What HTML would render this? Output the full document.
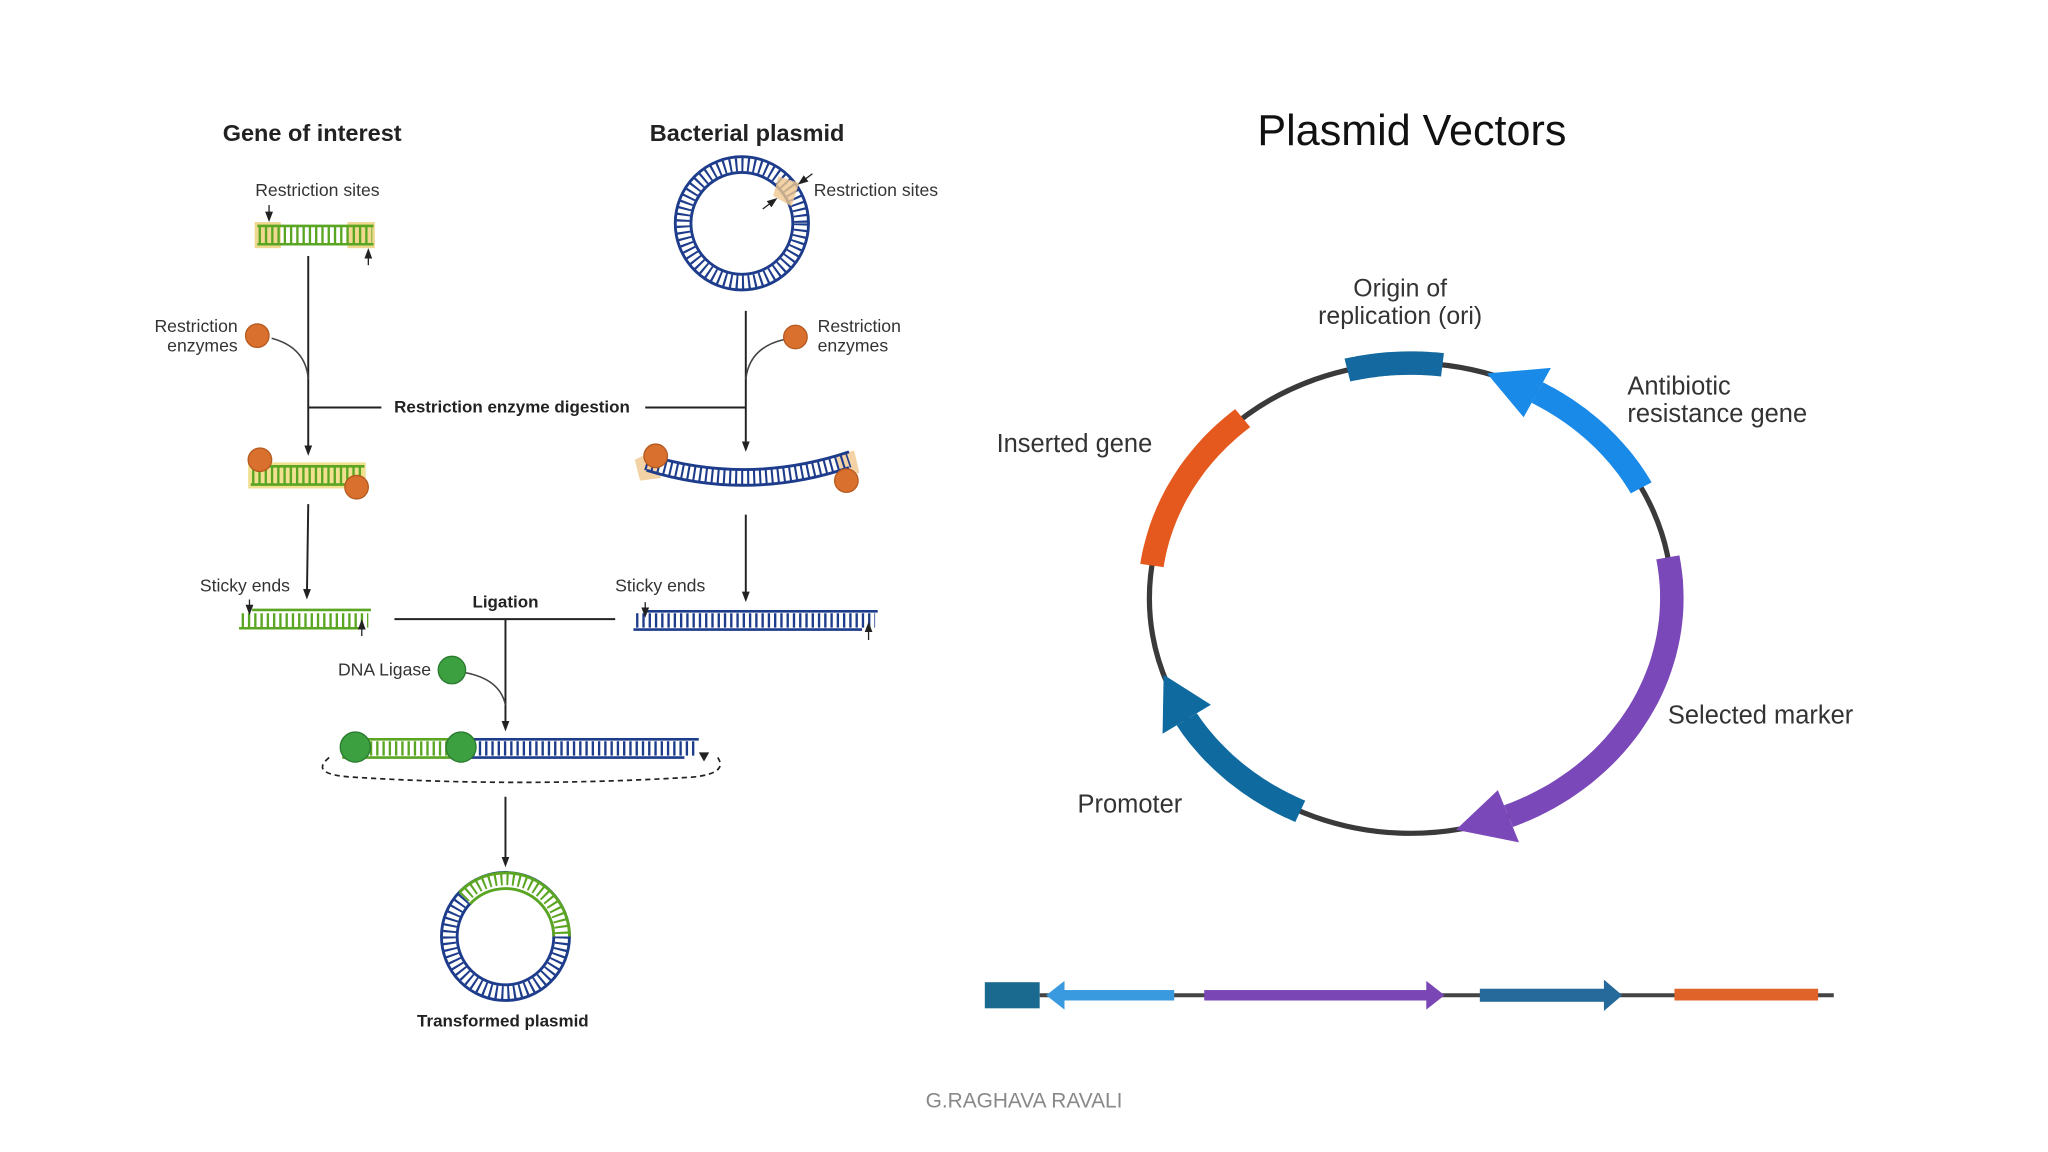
<!DOCTYPE html>
<html><head><meta charset="utf-8"><style>
html,body{margin:0;padding:0;background:#fff;width:2048px;height:1152px;overflow:hidden}
svg{display:block}
text{font-family:"Liberation Sans",sans-serif}
</style></head><body>
<svg id="s" width="2048" height="1152" viewBox="0 0 1568 882" xmlns="http://www.w3.org/2000/svg">
<defs>
<marker id="ah" markerWidth="8" markerHeight="8" refX="4" refY="4" orient="auto" markerUnits="userSpaceOnUse"><path d="M0,1 L8,4 L0,7 Z" fill="#222"/></marker>
</defs>
<rect width="1568" height="882" fill="#fff"/>
<text x="239" y="108" font-size="18" font-weight="bold" text-anchor="middle" fill="#222">Gene of interest</text>
<text x="572" y="108" font-size="18" font-weight="bold" text-anchor="middle" fill="#222">Bacterial plasmid</text>
<text x="1081" y="111" font-size="33" text-anchor="middle" fill="#111">Plasmid Vectors</text>

<text x="243" y="150" font-size="13.5" text-anchor="middle" fill="#333">Restriction sites</text>
<rect x="195" y="170" width="20" height="20" fill="#f0d890"/>
<rect x="266" y="170" width="21" height="20" fill="#f0d890"/>
<g stroke="#5aa623">
<line x1="197" y1="173" x2="286" y2="173" stroke-width="2"/>
<line x1="197" y1="187" x2="286" y2="187" stroke-width="2"/>
<line x1="198" y1="180" x2="285" y2="180" stroke-width="13" stroke-dasharray="1.8 3"/>
</g>
<line x1="206" y1="157" x2="206" y2="166" stroke="#222" marker-end="url(#ah)" stroke-width="1"/>
<line x1="282" y1="203" x2="282" y2="194" stroke="#222" marker-end="url(#ah)" stroke-width="1"/>

<line x1="236" y1="196" x2="236" y2="345" stroke="#222" stroke-width="1.5" marker-end="url(#ah)"/>
<path d="M208,259 Q234,266 236,290" fill="none" stroke="#444" stroke-width="1.2"/>
<circle cx="197" cy="257" r="9" fill="#d9702e" stroke="#b55a20"/>
<text x="182" y="254" font-size="13.5" text-anchor="end" fill="#333">Restriction</text>
<text x="182" y="269" font-size="13.5" text-anchor="end" fill="#333">enzymes</text>

<line x1="236" y1="312" x2="292" y2="312" stroke="#222" stroke-width="1.5"/>
<text x="392" y="316" font-size="13" font-weight="bold" text-anchor="middle" fill="#222">Restriction enzyme digestion</text>
<line x1="494" y1="312" x2="571" y2="312" stroke="#222" stroke-width="1.5"/>

<circle cx="568" cy="171" r="45" fill="none" stroke="#1e3c8c" stroke-width="10" stroke-dasharray="1.6 3"/>
<circle cx="568" cy="171" r="51" fill="none" stroke="#1e3c8c" stroke-width="2.2"/>
<circle cx="568" cy="171" r="39" fill="none" stroke="#1e3c8c" stroke-width="2.2"/>
<path d="M596,135 L612,140 L606,158 L592,150 Z" fill="#f0c890" opacity="0.8"/>
<line x1="622" y1="133" x2="614" y2="139" stroke="#222" stroke-width="1" marker-end="url(#ah)"/>
<line x1="584" y1="160" x2="592" y2="154" stroke="#222" stroke-width="1" marker-end="url(#ah)"/>
<text x="623" y="150" font-size="13.5" fill="#333">Restriction sites</text>

<line x1="571" y1="238" x2="571" y2="342" stroke="#222" stroke-width="1.5" marker-end="url(#ah)"/>
<path d="M600,260 Q574,266 571,290" fill="none" stroke="#444" stroke-width="1.2"/>
<circle cx="609" cy="258" r="9" fill="#d9702e" stroke="#b55a20"/>
<text x="626" y="254" font-size="13.5" fill="#333">Restriction</text>
<text x="626" y="269" font-size="13.5" fill="#333">enzymes</text>

<rect x="190" y="354" width="90" height="20" fill="#f0e090"/>
<g stroke="#5aa623">
<line x1="192" y1="357" x2="279" y2="357" stroke-width="2"/>
<line x1="192" y1="371" x2="279" y2="371" stroke-width="2"/>
<line x1="193" y1="364" x2="278" y2="364" stroke-width="13" stroke-dasharray="1.8 3"/>
</g>
<circle cx="199" cy="352" r="9" fill="#d9702e" stroke="#b55a20"/>
<circle cx="273" cy="373" r="9" fill="#d9702e" stroke="#b55a20"/>

<path d="M486,352 L500,345 L506,366 L490,368 Z" fill="#f0c890" opacity="0.8"/>
<path d="M640,348 L654,345 L658,362 L644,366 Z" fill="#f0c890" opacity="0.8"/>
<g fill="none" stroke="#1e3c8c">
<path d="M495,354 Q572,378 650,352" stroke-width="12" stroke-dasharray="1.6 3"/>
<path d="M495,348 Q572,372 650,346" stroke-width="2.2"/>
<path d="M495,360 Q572,384 650,358" stroke-width="2.2"/>
</g>
<circle cx="502" cy="349" r="9" fill="#d9702e" stroke="#b55a20"/>
<circle cx="648" cy="368" r="9" fill="#d9702e" stroke="#b55a20"/>

<line x1="236" y1="386" x2="235" y2="455" stroke="#222" stroke-width="1.5" marker-end="url(#ah)"/>
<line x1="571" y1="394" x2="571" y2="457" stroke="#222" stroke-width="1.5" marker-end="url(#ah)"/>

<text x="153" y="453" font-size="13.5" fill="#333">Sticky ends</text>
<g stroke="#5aa623">
<line x1="193" y1="467" x2="284" y2="467" stroke-width="2"/>
<line x1="183" y1="481" x2="275" y2="481" stroke-width="2"/>
<line x1="185" y1="475" x2="282" y2="475" stroke-width="11" stroke-dasharray="1.8 3"/>
</g>
<line x1="191" y1="459" x2="191" y2="467" stroke="#222" stroke-width="1" marker-end="url(#ah)"/>
<line x1="277" y1="487" x2="277" y2="478" stroke="#222" stroke-width="1" marker-end="url(#ah)"/>

<text x="471" y="453" font-size="13.5" fill="#333">Sticky ends</text>
<g stroke="#1e3c8c">
<line x1="495" y1="468" x2="672" y2="468" stroke-width="2"/>
<line x1="485" y1="482" x2="660" y2="482" stroke-width="2"/>
<line x1="487" y1="475" x2="670" y2="475" stroke-width="11" stroke-dasharray="1.8 3"/>
</g>
<line x1="494" y1="461" x2="494" y2="469" stroke="#222" stroke-width="1" marker-end="url(#ah)"/>
<line x1="665" y1="490" x2="665" y2="480" stroke="#222" stroke-width="1" marker-end="url(#ah)"/>

<text x="387" y="465" font-size="13" font-weight="bold" text-anchor="middle" fill="#222">Ligation</text>
<line x1="302" y1="474" x2="471" y2="474" stroke="#222" stroke-width="1.5"/>
<line x1="387" y1="474" x2="387" y2="556" stroke="#222" stroke-width="1.5" marker-end="url(#ah)"/>
<path d="M356,515 Q383,520 387,540" fill="none" stroke="#444" stroke-width="1.2"/>
<circle cx="346" cy="513" r="10.5" fill="#3ca040" stroke="#2a7a2e"/>
<text x="330" y="517" font-size="13.5" text-anchor="end" fill="#333">DNA Ligase</text>

<g stroke="#5aa623">
<line x1="262" y1="566" x2="355" y2="566" stroke-width="2"/>
<line x1="262" y1="580" x2="355" y2="580" stroke-width="2"/>
<line x1="264" y1="573" x2="355" y2="573" stroke-width="11" stroke-dasharray="1.8 3"/>
</g>
<g stroke="#1e3c8c">
<line x1="355" y1="566" x2="535" y2="566" stroke-width="2"/>
<line x1="355" y1="580" x2="524" y2="580" stroke-width="2"/>
<line x1="357" y1="573" x2="533" y2="573" stroke-width="11" stroke-dasharray="1.8 3"/>
</g>
<circle cx="272" cy="572" r="11.5" fill="#3ca040" stroke="#2a7a2e"/>
<circle cx="353" cy="572" r="11.5" fill="#3ca040" stroke="#2a7a2e"/>
<path d="M535,576 L543,576 L539,583 Z" fill="#222"/>
<path d="M252,580 Q236,593 270,595 Q397,603 530,595 Q560,592 548,578" fill="none" stroke="#222" stroke-width="1.3" stroke-dasharray="4 3"/>

<line x1="387" y1="610" x2="387" y2="660" stroke="#222" stroke-width="1.5" marker-end="url(#ah)"/>

<circle cx="387" cy="717" r="43" fill="none" stroke="#1e3c8c" stroke-width="10" stroke-dasharray="1.6 3"/>
<circle cx="387" cy="717" r="49" fill="none" stroke="#1e3c8c" stroke-width="2.2"/>
<circle cx="387" cy="717" r="37" fill="none" stroke="#1e3c8c" stroke-width="2.2"/>
<path d="M352,683 A49,49 0 0 1 436,717 L424,717 A37,37 0 0 0 360,692 Z" fill="#fff"/>
<path d="M355,687 A43,43 0 0 1 430,717" fill="none" stroke="#5aa623" stroke-width="10" stroke-dasharray="1.6 3"/>
<path d="M352,683 A49,49 0 0 1 436,717" fill="none" stroke="#5aa623" stroke-width="2.2"/>
<path d="M360,692 A37,37 0 0 1 424,717" fill="none" stroke="#5aa623" stroke-width="2.2"/>
<text x="385" y="786" font-size="13" font-weight="bold" text-anchor="middle" fill="#222">Transformed plasmid</text>

<ellipse cx="1080" cy="458" rx="200" ry="180" fill="none" stroke="#3a3a3a" stroke-width="4"/>
<g id="arcs"></g>

<text x="1072" y="227" font-size="19" text-anchor="middle" fill="#333">Origin of</text>
<text x="1072" y="248" font-size="19" text-anchor="middle" fill="#333">replication (ori)</text>
<text x="1246" y="302" font-size="19.5" fill="#333">Antibiotic</text>
<text x="1246" y="323" font-size="19.5" fill="#333">resistance gene</text>
<text x="763" y="346" font-size="19.5" fill="#333">Inserted gene</text>
<text x="1277" y="554" font-size="19.5" fill="#333">Selected marker</text>
<text x="825" y="622" font-size="19.5" fill="#333">Promoter</text>

<line x1="796" y1="762" x2="1404" y2="762" stroke="#444" stroke-width="3"/>
<rect x="754" y="752" width="42" height="20" fill="#1a6a8f"/>
<rect x="812" y="758" width="87" height="8" fill="#3a9ae0"/>
<path d="M801,762 L815,751 L815,773 Z" fill="#3a9ae0"/>
<rect x="922" y="758" width="172" height="8" fill="#7a45b5"/>
<path d="M1106,762 L1092,751 L1092,773 Z" fill="#7a45b5"/>
<rect x="1133" y="757" width="98" height="10" fill="#256a9a"/>
<path d="M1242,762 L1228,750 L1228,774 Z" fill="#256a9a"/>
<rect x="1282" y="757" width="110" height="9" fill="#e0632a"/>

<text x="784" y="848" font-size="16" text-anchor="middle" fill="#888">G.RAGHAVA RAVALI</text>
</svg>
<script>
(function(){
var cx=1080,cy=458,rx=200,ry=180,w=18,g=document.getElementById('arcs');
function pt(t,d){var r=t*Math.PI/180;return [cx+(rx+d)*Math.cos(r),cy+(ry+d)*Math.sin(r)];}
function arc(a,b,col,head){
  var a0=a,b0=b,hl=9;
  if(head==='start')a0=a+hl; if(head==='end')b0=b-hl;
  var p=[],i,n=40;
  for(i=0;i<=n;i++)p.push(pt(a0+(b0-a0)*i/n,w/2));
  for(i=n;i>=0;i--)p.push(pt(a0+(b0-a0)*i/n,-w/2));
  var s='<polygon fill="'+col+'" points="'+p.map(function(q){return q[0].toFixed(1)+','+q[1].toFixed(1)}).join(' ')+'"/>';
  if(head){var base=head==='start'?a0:b0,tip=head==='start'?a-3:b+3;
    var h=[pt(base,w*1.2),pt(tip,0),pt(base,-w*1.2)];
    s+='<polygon fill="'+col+'" points="'+h.map(function(q){return q[0].toFixed(1)+','+q[1].toFixed(1)}).join(' ')+'"/>';}
  return s;}
var h='';
h+=arc(-104,-83,'#1469a0',null);
h+=arc(-70,-28,'#1a8ae8','start');
h+=arc(-10,77,'#7a48b8','end');
h+=arc(115,158,'#0f6aa0','end');
h+=arc(188,230,'#e5581e',null);
g.innerHTML=h;
})();
</script>
</body></html>
